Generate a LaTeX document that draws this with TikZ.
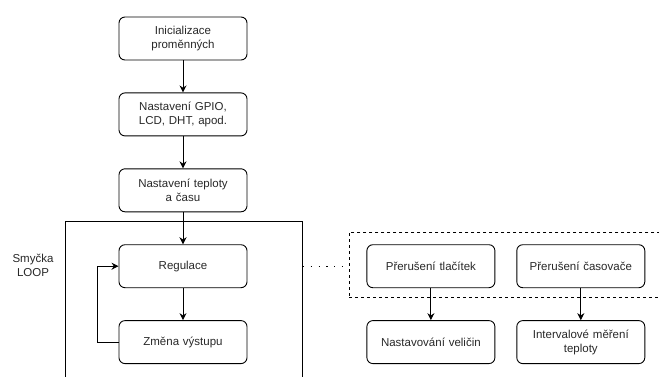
\documentclass[tikz,border=0pt]{standalone}
\usepackage{fontspec}
\setmainfont{Liberation Sans}
\usepackage{tikz}
\usetikzlibrary{arrows.meta, positioning}
\usepackage{xcolor}
\definecolor{textgray}{RGB}{40,40,40}
\tikzstyle{block} = [rectangle, draw, rounded corners=6pt, minimum width=128pt, minimum height=43pt, text width=122pt, align=center, inner sep=2pt, text=textgray, font=\fontsize{11.5}{14}\selectfont]
\tikzstyle{frame} = [rectangle, draw, anchor=north west, inner sep=0pt]
\tikzstyle{arrow} = [-{Stealth[length=7pt, width=7pt]}, line width=0.9pt]

\begin{document}
\begin{tikzpicture}[x=1pt, y=-1pt, node distance=32pt, line width=0.9pt]
  \clip (0,0) rectangle (659,376);

  % init chain
  \node[block] (init) at (183,38.5) {Inicializace\\proměnných};
  \node[block, below=of init] (gpio) {Nastavení GPIO,\\LCD, DHT, apod.};
  \node[block, below=of gpio] (settime) {Nastavení teploty\\a času};

  % main loop
  \node[frame, minimum width=237pt, minimum height=180pt] (loop) at (65,221) {};
  \node[block, below=of settime] (reg) {Regulace};
  \node[block, below=of reg] (output) {Změna výstupu};
  \node[align=center, text=textgray, font=\fontsize{11.5}{14}\selectfont] (looplabel) at (33,265) {Smyčka\\LOOP};

  % interrupts
  \node[frame, dashed, minimum width=330pt, minimum height=65pt] (irq) at (349,232) {};
  \node[block, right=119pt of reg] (btn) {Přerušení tlačítek};
  \node[block, right=21pt of btn] (timer) {Přerušení časovače};
  \node[block, below=of btn] (setval) {Nastavování veličin};
  \node[block, below=of timer] (measure) {Intervalové měření\\teploty};

  \draw[arrow] (init) -- (gpio);
  \draw[arrow] (gpio) -- (settime);
  \draw[arrow] (settime) -- (reg);
  \draw[arrow] (reg) -- (output);
  \draw[arrow] (output.west) -- ++(-21,0) |- (reg.west);
  \draw[arrow] (btn) -- (setval);
  \draw[arrow] (timer) -- (measure);
  \draw[dash pattern=on 1.3pt off 6.5pt, line width=1.3pt] (loop.east |- reg) -- (irq.west |- reg);
\end{tikzpicture}
\end{document}
